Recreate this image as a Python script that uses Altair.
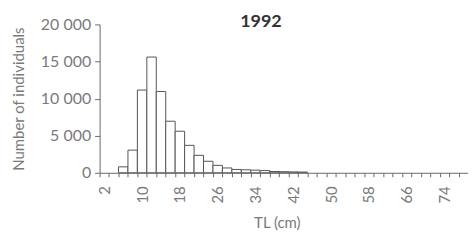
import altair as alt
import pandas as pd

bins = list(range(2, 80, 2))
counts = [0, 0, 800, 3050, 11150, 15600, 10950, 6950, 5600, 3700,
          2350, 1550, 1000, 650, 450, 400, 350, 300, 170, 150,
          120, 100] + [0] * 17
y_ticks = [0, 5000, 10000, 15000, 20000]

df = pd.DataFrame({"TL": bins, "n": counts})

FONT = "Lato"
TXT = "#7a7a7a"
LINE = "#6a6a6a"

chart = alt.Chart(df).transform_filter("datum.n > 0").mark_bar(
    fill="white", stroke="#555555", strokeWidth=1
).encode(
    x=alt.X("TL:O", sort=bins,
            scale=alt.Scale(domain=bins, paddingInner=0, paddingOuter=0),
            axis=alt.Axis(title="TL (cm)", labelAngle=-90, tickBand="extent",
                          labelExpr="(datum.value - 2) % 8 == 0 ? datum.label : ''",
                          labelOverlap=False, tickSize=4, labelPadding=9,
                          titleX=178, titleY=50, titleBaseline="middle",
                          titleAlign="center")),
    y=alt.Y("n:Q", scale=alt.Scale(domain=[0, 20000], nice=False),
            axis=alt.Axis(title="Number of individuals", values=y_ticks,
                          labelExpr="replace(format(datum.value, ','), ',', ' ')",
                          labelFontSize=16,
                          tickSize=5, labelPadding=4, grid=False,
                          titleX=-81, titleY=74.5, titleBaseline="middle",
                          titleAlign="center")),
).properties(
    width=370, height=149,
    title=alt.TitleParams("1992", anchor="middle", dx=-23, dy=15, fontSize=18,
                          fontWeight="bold", color="#333333", offset=0, font=FONT),
    autosize=alt.AutoSizeParams(type="none"),
    padding={"left": 92, "top": 16, "right": 0, "bottom": 62},
).configure_view(stroke=None).configure_axis(
    labelFont=FONT, titleFont=FONT, labelFontSize=15, titleFontSize=15,
    labelColor=TXT, titleColor=TXT, titleFontWeight="normal",
    domainColor=LINE, tickColor=LINE, domainWidth=1, tickWidth=1,
)

chart.save("out.html", embed_options={"renderer": "svg", "actions": False})
